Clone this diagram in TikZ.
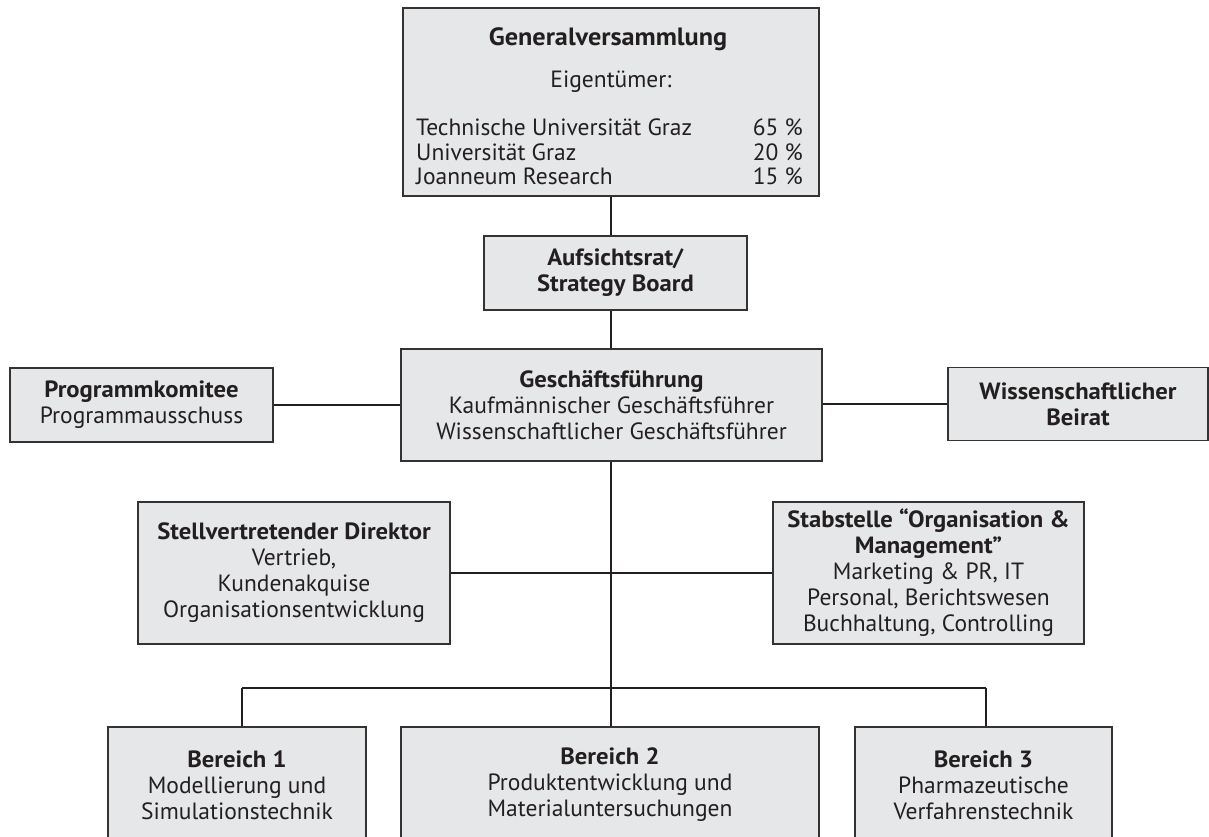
\documentclass[tikz,border=0pt]{standalone}
\usepackage{fontspec}
\setmainfont[BoldFeatures={FakeStretch=1.05}]{PT Sans}
\definecolor{boxfill}{HTML}{E6E7E8}
\definecolor{boxline}{HTML}{333333}
\definecolor{ink}{HTML}{231F20}
\tikzset{
  orgbox/.style={draw=boxline, fill=boxfill, line width=1.8pt, inner sep=0pt, align=center,
    text=ink, font=\fontsize{23.5}{26}\selectfont},
  plain/.style={inner sep=0pt, text=ink, font=\fontsize{23.5}{26}\selectfont},
  conn/.style={draw=ink, line width=2pt},
}
\begin{document}
\begin{tikzpicture}[x=1pt,y=-1pt]
\clip (0,0) rectangle (1209,836);
\fill[white] (0,0) rectangle (1209,836);
% Generalversammlung
\node[orgbox, minimum width=416pt, minimum height=188pt] (gv) at (611,102) {};
\node[plain, font=\fontsize{25}{28}\selectfont\bfseries, anchor=base] (gvt) at (608,45) {Generalversammlung};
\node[plain, anchor=base] (eig) at (611,87) {Eigentümer:};
\node[plain, anchor=base west] (r1) at (416,135) {Technische Universität Graz};
\node[plain, anchor=base east] (p1) at (803,135) {65 \%};
\node[plain, anchor=base west] (r2) at (416,160) {Universität Graz};
\node[plain, anchor=base east] (p2) at (803,160) {20 \%};
\node[plain, anchor=base west] (r3) at (416,184) {Joanneum Research};
\node[plain, anchor=base east] (p3) at (803,184) {15 \%};
% Aufsichtsrat
\node[orgbox, minimum width=263pt, minimum height=74pt] (ar) at (615.5,273) {\textbf{Aufsichtsrat/}\\\textbf{Strategy Board}};
% Geschaeftsfuehrung
\node[orgbox, minimum width=421pt, minimum height=112pt] (gf) at (611.5,405) {\textbf{Geschäftsführung}\\Kaufmännischer Geschäftsführer\\Wissenschaftlicher Geschäftsführer};
\node[orgbox, minimum width=263pt, minimum height=74pt] (pk) at (141.5,405) {\textbf{Programmkomitee}\\Programmausschuss};
\node[orgbox, minimum width=260pt, minimum height=73pt] (wb) at (1078,404) {\textbf{Wissenschaftlicher}\\\textbf{Beirat}};
% Stab
\node[orgbox, minimum width=312pt, minimum height=142pt] (sv) at (294,573) {\textbf{Stellvertretender Direktor}\\Vertrieb,\\Kundenakquise\\Organisationsentwicklung};
\node[orgbox, minimum width=311pt, minimum height=142pt] (st) at (928.5,573) {\textbf{Stabstelle “Organisation \&}\\\textbf{Management”}\\Marketing \& PR, IT\\Personal, Berichtswesen\\Buchhaltung, Controlling};
% Bereiche
\node[orgbox, minimum width=258pt, minimum height=116pt] (b1) at (237,785) {\textbf{Bereich 1}\\Modellierung und\\Simulationstechnik};
\node[orgbox, minimum width=418pt, minimum height=116pt] (b2) at (610,785) {\textbf{Bereich 2}\\Produktentwicklung und\\Materialuntersuchungen};
\node[orgbox, minimum width=257pt, minimum height=116pt] (b3) at (983.5,785) {\textbf{Bereich 3}\\Pharmazeutische\\Verfahrenstechnik};
% connectors
\coordinate (j) at (611,688);
\coordinate (j1) at (242,688);
\coordinate (j3) at (986,688);
\draw[conn] (gv.south) -- (gv.south |- ar.north);
\draw[conn] (gv.south |- ar.south) -- (gv.south |- gf.north);
\draw[conn] (pk.east) -- (gf.west |- pk.east);
\draw[conn] (gf.east |- wb.west) -- (wb.west);
\draw[conn] (gv.south |- gf.south) -- (j);
\draw[conn] (sv.east) -- (st.west);
\draw[conn] (j1) -- (j3);
\draw[conn] (j1) -- (j1 |- b1.north);
\draw[conn] (j) -- (j |- b2.north);
\draw[conn] (j3) -- (j3 |- b3.north);
\end{tikzpicture}
\end{document}
